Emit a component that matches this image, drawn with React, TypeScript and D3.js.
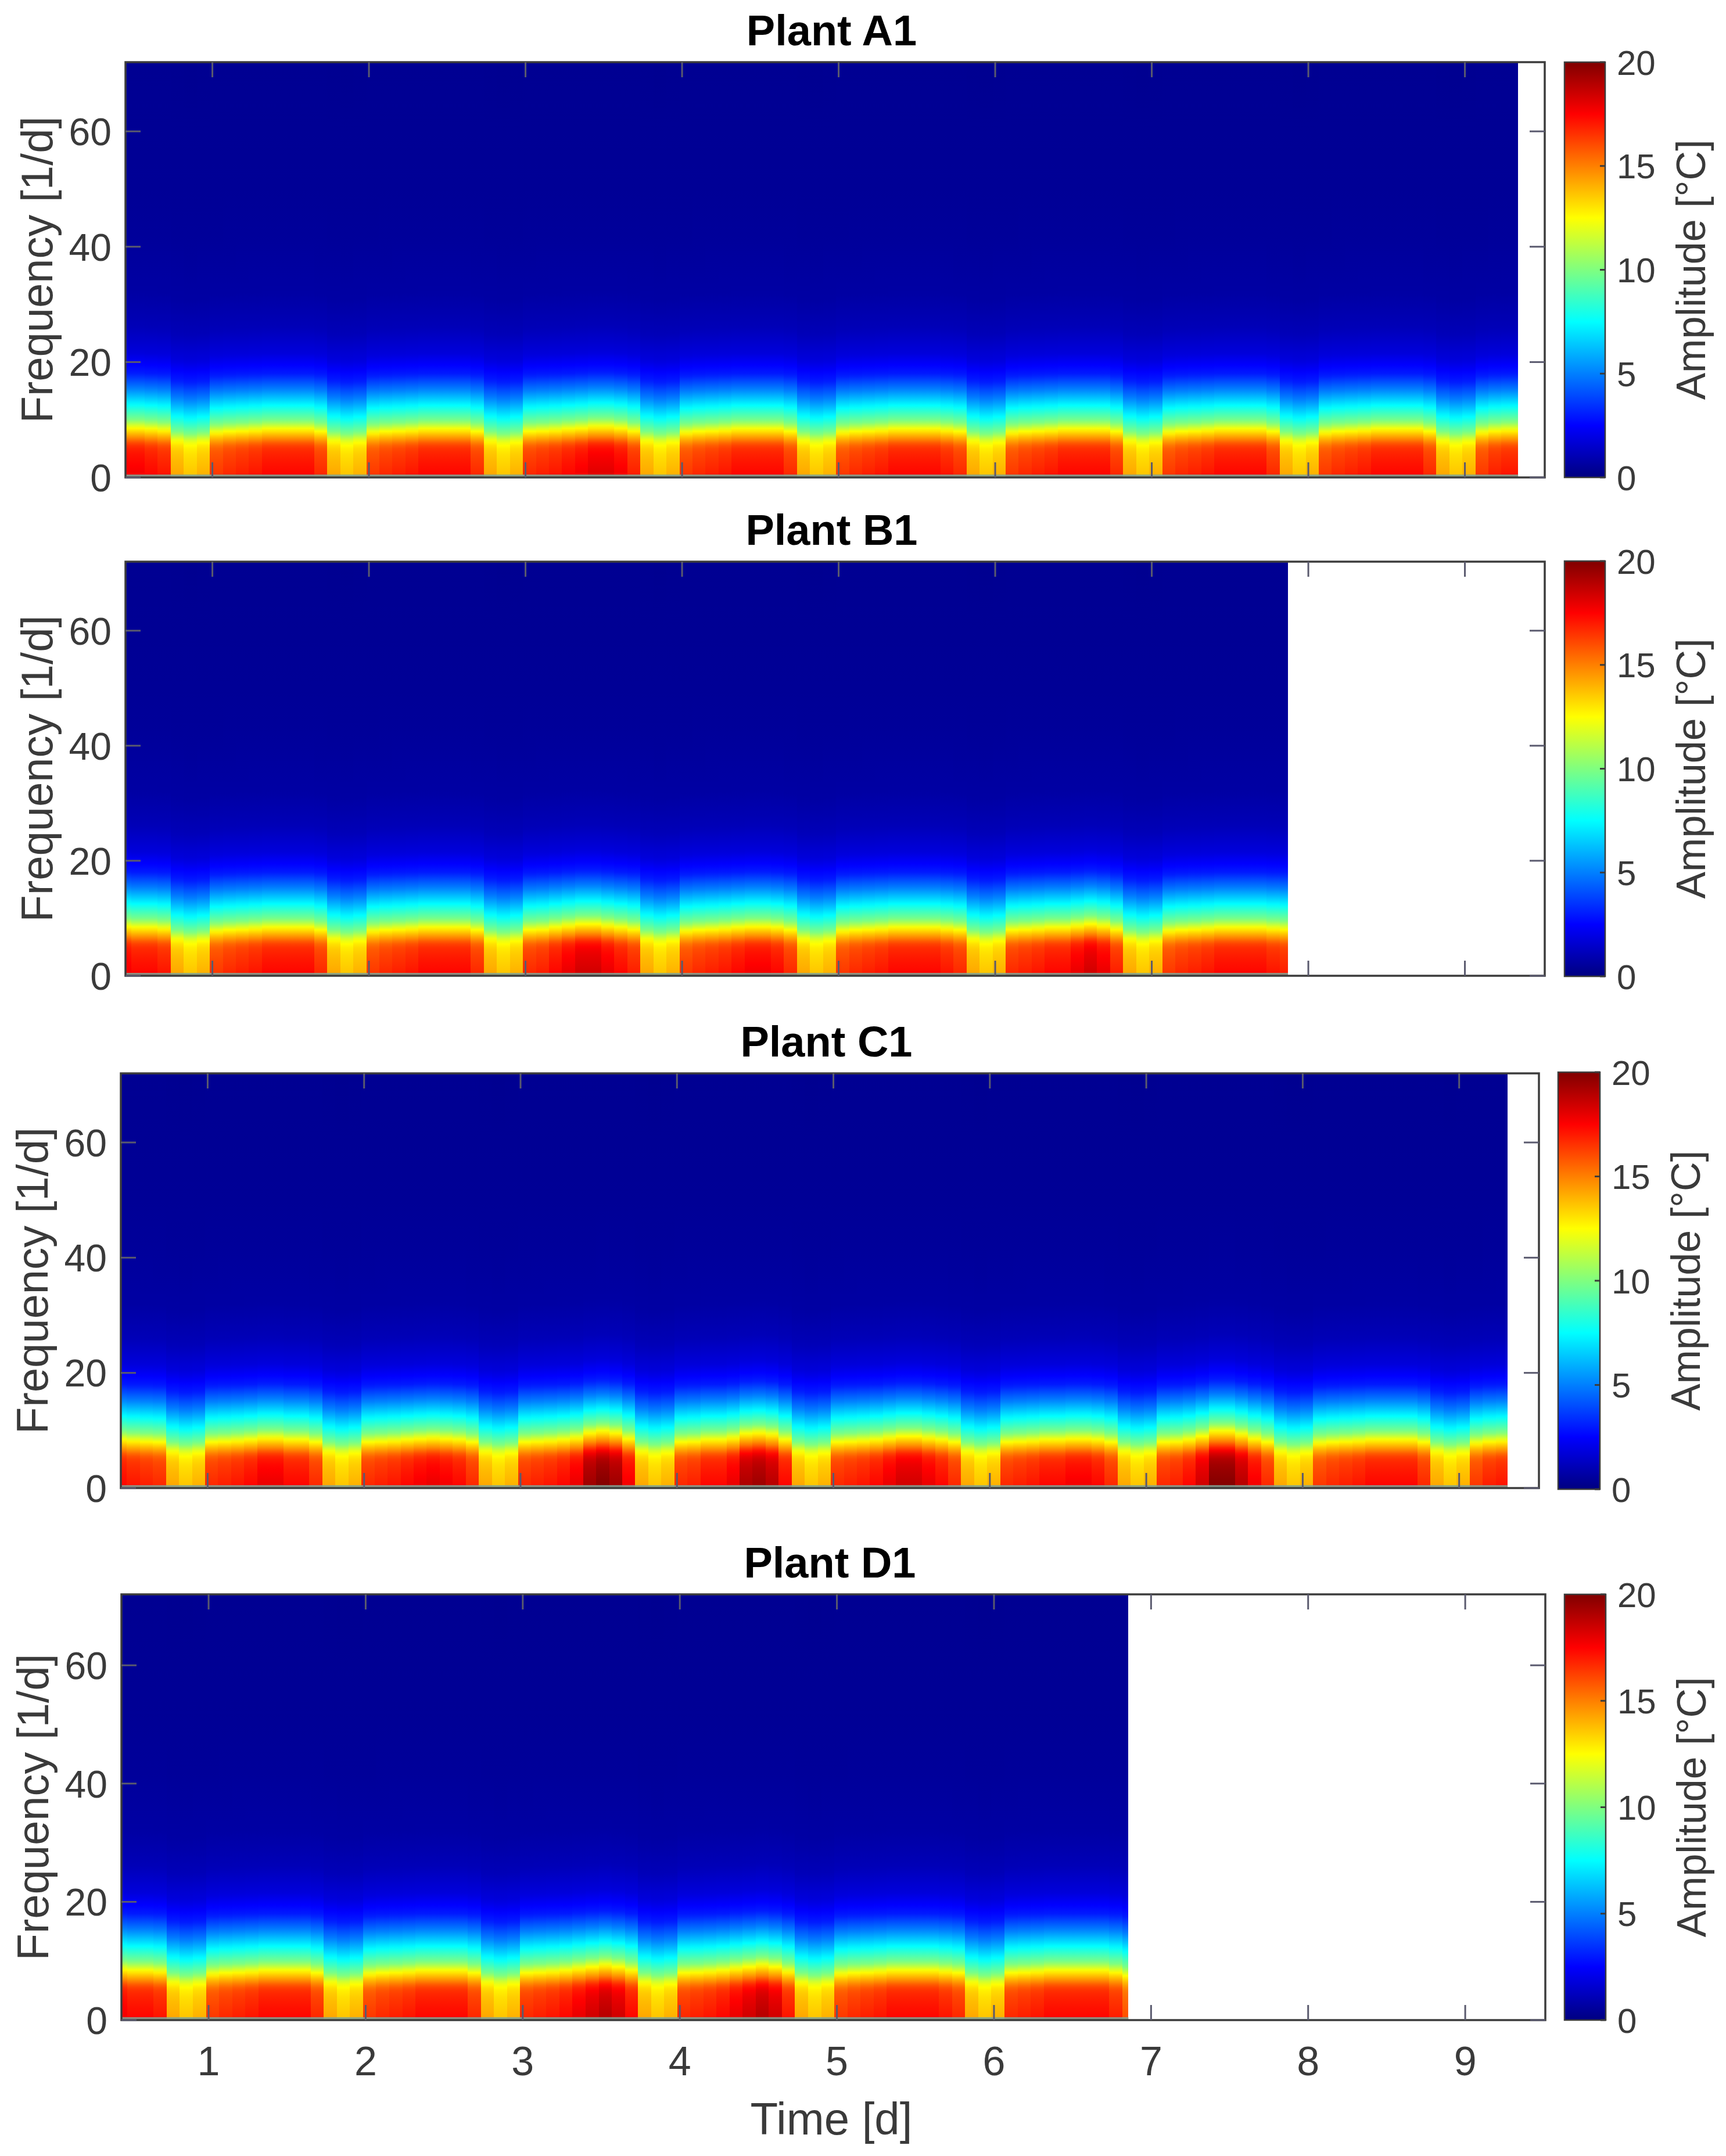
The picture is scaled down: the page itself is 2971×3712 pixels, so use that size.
import React from 'react';
import * as d3 from 'd3';

// ---------- data ----------
const TITLES = ['Plant A1', 'Plant B1', 'Plant C1', 'Plant D1'];
const COL_START = 0.4; // start day of first spectrogram column
const COL_STEP = 1 / 12; // 2-hour columns
const END_TIMES = [9.34, 7.87, 9.31, 6.856];
const X_DOMAIN = [0.445, 9.51];
const Y_DOMAIN = [0, 72];
const X_TICKS = [1, 2, 3, 4, 5, 6, 7, 8, 9];
const Y_TICKS = [0, 20, 40, 60];
const CB_TICKS = [0, 5, 10, 15, 20];
const CB_DOMAIN = [0, 20];

// amplitude spectrum tail of a typical column (frequency 1/d -> amplitude °C)
const TAIL_FREQ = [0, 2.5, 5.2, 6.6, 8.4, 9.8, 12.5, 15.3, 18, 21.5, 26, 32, 45, 72];
const TAIL_AMP = [25, 21.5, 17.5, 15, 12.5, 10, 7.5, 5, 3, 1.8, 1.1, 0.7, 0.45, 0.35];

// low-frequency amplitude of each 2-hour column
const PEAK_A1 = [
  17.8, 17.8, 17.5, 17.2,
  14.3, 13.7, 14.1, 16.5, 16.8, 17, 17.2, 17.5, 17.5, 17.5, 17.5, 16.8,
  14.3, 13.7, 14.1, 16.5, 16.8, 17, 17.2, 17.5, 17.5, 17.5, 17.5, 16.8,
  14.3, 13.7, 14.1, 16.8, 17, 17.2, 17.5, 17.8, 18.2, 18.2, 17.8, 17,
  14.3, 13.7, 14.1, 16.5, 16.8, 17, 17.2, 17.5, 17.5, 17.5, 17.5, 16.8,
  14.3, 13.7, 14.1, 16.5, 16.8, 17, 17.2, 17.5, 17.5, 17.5, 17.5, 17.2, 16.8,
  14.3, 13.7, 14.1, 16.5, 16.8, 17, 17.2, 17.5, 17.5, 17.5, 17.5, 16.8,
  14.3, 13.7, 14.1, 16.5, 16.8, 17, 17.2, 17.5, 17.5, 17.5, 17.5, 16.8,
  14.3, 13.7, 14.1, 16.5, 16.8, 17, 17.2, 17.5, 17.5, 17.5, 17.5, 16.8,
  14.3, 13.7, 14.1, 16.5, 17, 17.2, 17.2,
];
const PEAK_B1 = [
  17.8, 17.5, 17.5, 17.2,
  14.3, 13.7, 14.1, 16.5, 16.8, 17, 17.2, 17.5, 17.5, 17.5, 17.5, 16.8,
  14.3, 13.7, 14.1, 16.5, 16.8, 17, 17.2, 17.5, 17.5, 17.5, 17.5, 16.8,
  14.3, 13.7, 14.1, 16.8, 17, 17.5, 18, 18.5, 18.5, 18, 17.5, 17,
  14.3, 13.7, 14.1, 16.5, 16.8, 17, 17.2, 17.5, 17.8, 17.8, 17.5, 16.8,
  14.3, 13.7, 14.1, 16.5, 16.8, 17, 17.2, 17.5, 17.5, 17.5, 17.5, 17.2, 16.8,
  14.3, 13.7, 14.1, 16.8, 17, 17.2, 17.5, 17.5, 18, 18.5, 18, 17,
  14.3, 13.7, 14.1, 16.5, 16.8, 17, 17.2, 17.5, 17.5, 17.5, 17.5, 17.2, 17,
];
const PEAK_C1 = [
  17.5, 17.2, 17, 16.8,
  14.3, 13.7, 14.1, 16.8, 17, 17.2, 17.5, 18, 18, 17.5, 17.5, 16.8,
  14.3, 13.7, 14.1, 16.8, 17, 17.2, 17.5, 17.8, 18, 17.8, 17.5, 16.8,
  14.3, 13.7, 14.1, 16.8, 17, 17.2, 17.5, 18, 19.5, 20, 19.5, 17.8,
  14.3, 13.7, 14.1, 16.8, 17, 17.5, 17.5, 18, 19.2, 19.5, 19, 17.5,
  14.3, 13.7, 14.1, 16.8, 17, 17.2, 17.5, 18, 18.5, 18.5, 18, 17.5, 16.8,
  14.3, 13.7, 14.1, 16.8, 17, 17.2, 17.5, 17.5, 17.8, 17.8, 17.5, 16.8,
  14.3, 13.7, 14.1, 16.8, 17, 17.5, 18.5, 20, 20, 19, 17.8, 16.8,
  14.3, 13.7, 14.1, 16.5, 16.8, 17, 17.2, 17.5, 17.5, 17.5, 17.5, 16.8,
  14.3, 13.7, 14.1, 16.5, 17, 17.2, 17.2,
];
const PEAK_D1 = [
  17.8, 17.5, 17.5, 17.2,
  14.3, 13.7, 14.1, 16.5, 16.8, 17, 17.2, 17.5, 17.5, 17.5, 17.5, 16.8,
  14.3, 13.7, 14.1, 16.5, 16.8, 17, 17.2, 17.5, 17.5, 17.5, 17.5, 16.8,
  14.3, 13.7, 14.1, 16.8, 17, 17.2, 17.5, 18, 18.5, 19, 18.5, 17.5,
  14.3, 13.7, 14.1, 16.8, 17, 17.2, 17.5, 18, 18.5, 19, 18.5, 17.2,
  14.3, 13.7, 14.1, 16.5, 16.8, 17, 17.2, 17.5, 17.5, 17.5, 17.5, 17.2, 16.8,
  14.3, 13.7, 14.1, 16.8, 17, 17.2, 17.5, 17.5, 17.5, 17.5, 17.5, 17, 16,
];
const PEAKS = [PEAK_A1, PEAK_B1, PEAK_C1, PEAK_D1];

// jet colormap stops
const JET_STOPS = [0, 2.5, 7.5, 12.5, 17.5, 20];
const JET_COLORS = ['#000080', '#0000ff', '#00ffff', '#ffff00', '#ff0000', '#800000'];

// ---------- layout ----------
const W = 2971;
const H = 3712;
const FONT = '"Liberation Sans", Arial, Helvetica, sans-serif';
const AXIS_COLOR = '#3c3c3c';
const TEXT_COLOR = '#3a3a3a';
const TICK_COLOR = '#5a5a6e';
const LAYOUT = [
  { left: 216, right: 2659, top: 107, bottom: 822, cbL: 2693, cbR: 2763, cbT: 107, cbB: 822 },
  { left: 216, right: 2659, top: 967, bottom: 1680, cbL: 2693, cbR: 2763, cbT: 966, cbB: 1681 },
  { left: 208, right: 2649, top: 1848, bottom: 2562, cbL: 2682, cbR: 2754, cbT: 1846, cbB: 2564 },
  { left: 209, right: 2660, top: 2745, bottom: 3478, cbL: 2693, cbR: 2764, cbT: 2745, cbB: 3478 },
];

const jet = d3
  .scaleLinear<string>()
  .domain(JET_STOPS)
  .range(JET_COLORS)
  .interpolate(d3.interpolateRgb)
  .clamp(true);

const tail = d3.scaleLinear().domain(TAIL_FREQ).range(TAIL_AMP);
// how much of a column's band shift reaches each frequency
const shiftReach = d3.scaleLinear().domain([10, 18]).range([1, 0.55]).clamp(true);

function amplitude(peak: number, f: number): number {
  const s = 0.6 * (peak - 17.5) * shiftReach(f);
  const a = peak - 0.15 * f;
  const b = tail(f - s);
  const k = 0.8;
  const m = Math.min(a, b);
  const v = m - k * Math.log(Math.exp(-(a - m) / k) + Math.exp(-(b - m) / k));
  return Math.max(0.2, v);
}

const SAMPLE_F = d3.range(0, 34.01, 0.5).concat([38, 42, 50, 60, 72]);

function Panel({ idx }: { idx: number }) {
  const L = LAYOUT[idx];
  const peaks = PEAKS[idx];
  const end = END_TIMES[idx];
  const x = d3.scaleLinear().domain(X_DOMAIN).range([L.left, L.right]);
  const y = d3.scaleLinear().domain(Y_DOMAIN).range([L.bottom, L.top]);
  const cb = d3.scaleLinear().domain(CB_DOMAIN).range([L.cbB, L.cbT]);
  const tickLen = 26;
  const cx = (L.left + L.right) / 2 - 6;
  const cy = (L.top + L.bottom) / 2;

  const cols = peaks
    .map((pk, i) => {
      const t0 = Math.max(X_DOMAIN[0], COL_START + i * COL_STEP);
      const t1 = Math.min(end, COL_START + (i + 1) * COL_STEP);
      return { pk, i, t0, t1 };
    })
    .filter((c) => c.t1 > c.t0);

  const fMax = Y_DOMAIN[1];

  return (
    <g>
      <defs>
        {cols.map((c) => (
          <linearGradient key={c.i} id={`g${idx}_${c.i}`} x1="0" y1="1" x2="0" y2="0">
            {SAMPLE_F.map((f) => (
              <stop key={f} offset={f / fMax} stopColor={jet(amplitude(c.pk, f))} />
            ))}
          </linearGradient>
        ))}
        <linearGradient id={`cb${idx}`} x1="0" y1="1" x2="0" y2="0">
          {JET_STOPS.map((v, i) => (
            <stop key={v} offset={(v - CB_DOMAIN[0]) / (CB_DOMAIN[1] - CB_DOMAIN[0])} stopColor={JET_COLORS[i]} />
          ))}
        </linearGradient>
      </defs>

      {/* heatmap columns */}
      {cols.map((c) => {
        const x0 = x(c.t0);
        const x1 = x(c.t1);
        const isLast = c.t1 >= end;
        return (
          <rect
            key={c.i}
            x={x0}
            y={y(fMax)}
            width={x1 - x0 + (isLast ? 0 : 0.8)}
            height={y(0) - y(fMax)}
            fill={`url(#g${idx}_${c.i})`}
            shapeRendering="crispEdges"
          />
        );
      })}
      {/* thin low-frequency row */}
      <rect x={x(X_DOMAIN[0])} y={y(0) - 5} width={x(end) - x(X_DOMAIN[0])} height={4} fill="#7fa596" opacity={0.85} />

      {/* axes box */}
      <rect x={L.left} y={L.top} width={L.right - L.left} height={L.bottom - L.top} fill="none" stroke={AXIS_COLOR} strokeWidth={3.5} />

      {/* ticks */}
      {Y_TICKS.map((v) => (
        <g key={`y${v}`}>
          <line x1={L.left} x2={L.left + tickLen} y1={y(v)} y2={y(v)} stroke={TICK_COLOR} strokeWidth={3} />
          <line x1={L.right} x2={L.right - tickLen} y1={y(v)} y2={y(v)} stroke={TICK_COLOR} strokeWidth={3} />
          <text x={L.left - 24} y={y(v)} dy="0.36em" textAnchor="end" fontSize={66} fill={TEXT_COLOR} fontFamily={FONT}>
            {v}
          </text>
        </g>
      ))}
      {X_TICKS.map((v) => (
        <g key={`x${v}`}>
          <line x1={x(v)} x2={x(v)} y1={L.bottom} y2={L.bottom - tickLen} stroke={TICK_COLOR} strokeWidth={3} />
          <line x1={x(v)} x2={x(v)} y1={L.top} y2={L.top + tickLen} stroke={TICK_COLOR} strokeWidth={3} />
          {idx === 3 && (
            <text x={x(v)} y={L.bottom + 95} textAnchor="middle" fontSize={70} fill={TEXT_COLOR} fontFamily={FONT}>
              {v}
            </text>
          )}
        </g>
      ))}

      {/* title */}
      <text x={cx} y={L.top - 29} textAnchor="middle" fontSize={74} fontWeight="bold" fill="#000" fontFamily={FONT}>
        {TITLES[idx]}
      </text>

      {/* y label */}
      <text
        transform={`translate(${L.left - 126},${cy}) rotate(-90)`}
        textAnchor="middle"
        fontSize={76}
        fill={TEXT_COLOR}
        fontFamily={FONT}
      >
        Frequency [1/d]
      </text>

      {/* colorbar */}
      <rect x={L.cbL} y={L.cbT} width={L.cbR - L.cbL} height={L.cbB - L.cbT} fill={`url(#cb${idx})`} stroke={AXIS_COLOR} strokeWidth={2.5} />
      {CB_TICKS.map((v) => (
        <g key={`c${v}`}>
          <line x1={L.cbR} x2={L.cbR - 9} y1={cb(v)} y2={cb(v)} stroke={AXIS_COLOR} strokeWidth={3} />
          <text x={L.cbR + 20} y={cb(v)} dy="0.36em" fontSize={60} fill={TEXT_COLOR} fontFamily={FONT}>
            {v}
          </text>
        </g>
      ))}
      <text
        transform={`translate(${L.cbR + 172},${(L.cbT + L.cbB) / 2}) rotate(-90)`}
        textAnchor="middle"
        fontSize={70}
        fill={TEXT_COLOR}
        fontFamily={FONT}
      >
        Amplitude [°C]
      </text>

      {idx === 3 && (
        <text x={1431} y={3675} textAnchor="middle" fontSize={78} fill={TEXT_COLOR} fontFamily={FONT}>
          Time [d]
        </text>
      )}
    </g>
  );
}

export default function App() {
  return (
    <svg
      width={W}
      height={H}
      viewBox={`0 0 ${W} ${H}`}
      style={{ position: 'absolute', left: 0, top: 0, background: '#fff' }}
    >
      <rect x={0} y={0} width={W} height={H} fill="#fff" />
      {TITLES.map((t, i) => (
        <Panel key={t} idx={i} />
      ))}
    </svg>
  );
}
